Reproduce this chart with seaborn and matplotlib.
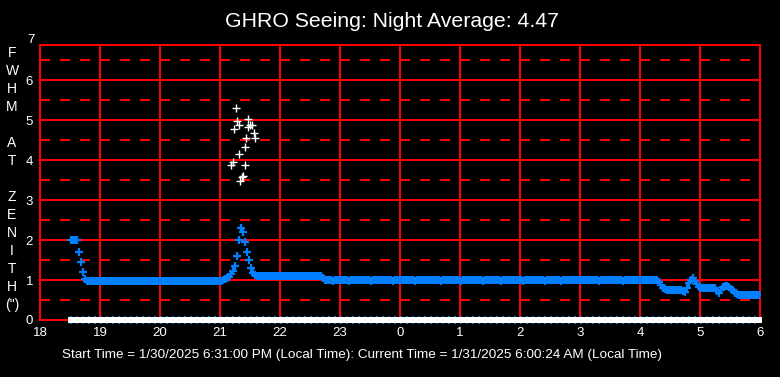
import numpy as np
import pandas as pd
import matplotlib
matplotlib.use('Agg')
import matplotlib.pyplot as plt
import seaborn as sns
from matplotlib.ticker import MultipleLocator, FixedLocator, NullLocator

# ==================== data ====================
start_time = '2025-01-30 18:31'
sample_step = '2min'

# seeing FWHM at zenith (arcsec), one value per 2 minutes from 18:31
fwhm = [
    2.00, 2.00, 2.00, 2.00, 1.70, 1.45, 1.20, 1.02,
    0.98, 0.97, 0.97, 0.97, 0.98, 0.97, 0.97, 0.97, 0.97, 0.97, 0.98, 0.97, 0.97, 0.97, 0.97, 0.97, 0.97,
    0.97, 0.97, 0.98, 0.97, 0.97, 0.97, 0.97, 0.97, 0.97, 0.97, 0.97, 0.98, 0.97, 0.97, 0.97, 0.97, 0.97,
    0.97, 0.97, 0.97, 0.97, 0.97, 0.98, 0.97, 0.97, 0.97, 0.97, 0.97, 0.97, 0.97, 0.97, 0.98, 0.97, 0.97,
    0.97, 0.97, 0.97, 0.97, 0.97, 0.97, 0.98, 0.97, 0.97, 0.97, 0.97, 0.97, 0.97, 0.97, 0.98, 0.97, 0.97,
    0.99, 1.02, 1.05, 1.08, 1.15, 1.22, 1.35, 1.60, 2.00, 2.30, 2.20, 1.95, 1.70, 1.50, 1.30, 1.18, 1.12,
    1.10, 1.10, 1.10, 1.10, 1.10, 1.10, 1.10, 1.10, 1.10, 1.10, 1.10,
    1.10, 1.10, 1.10, 1.10, 1.10, 1.10, 1.10, 1.10, 1.10, 1.10, 1.10,
    1.10, 1.10, 1.10, 1.10, 1.10, 1.10, 1.10, 1.10, 1.10, 1.10, 1.10,
    1.05, 0.99,
    0.99, 0.99, 0.99, 0.98, 0.99, 0.99, 0.99, 0.99, 0.99, 0.99, 0.99, 0.98, 0.99, 0.99, 0.99, 0.99,
    0.99, 0.99, 0.99, 0.99, 0.99, 0.99, 0.98, 0.99, 0.99, 0.99, 0.99, 0.99, 0.99, 0.99, 0.99, 0.99,
    0.99, 0.98, 0.99, 0.99, 0.99, 0.99, 0.99, 0.99, 0.99, 0.99, 0.99, 0.99, 0.98, 0.99, 0.99, 0.99,
    0.99, 0.99, 0.99, 0.99, 0.99, 0.99, 0.99, 0.99, 0.99, 0.98, 0.99, 0.99, 0.99, 0.99, 0.99, 0.99,
    0.99, 0.99, 0.99, 0.98, 0.99, 0.99, 0.99, 0.99, 0.99, 0.99, 0.99, 0.99, 0.99, 0.99, 0.98, 0.99,
    0.99, 0.99, 0.99, 0.99, 0.99, 0.99, 0.99, 0.98, 0.99, 0.99, 0.99, 0.99, 0.99, 0.99, 0.99, 0.99,
    0.99, 0.99, 0.98, 0.99, 0.99, 0.99, 0.99, 0.99, 0.99, 0.99, 0.99, 0.99, 0.99, 0.98, 0.99, 0.99,
    0.99, 0.99, 0.99, 0.99, 0.99, 0.98, 0.99, 0.99, 0.99, 0.99, 0.99, 0.99, 0.99, 0.99, 0.99, 0.99,
    0.99, 0.99, 0.99, 0.99, 0.99, 0.99, 0.99, 0.99, 0.98, 0.99, 0.99, 0.99, 0.99, 0.99, 0.99, 0.99,
    0.99, 0.99, 0.99, 0.99, 0.98, 0.99, 0.99, 0.99, 0.99, 0.99, 0.99, 0.99, 0.99, 0.99, 0.99, 0.99,
    0.99, 0.99, 0.99, 0.99, 0.99, 0.99,
    0.95, 0.88, 0.80, 0.77,
    0.75, 0.75, 0.76, 0.75, 0.75, 0.74, 0.75, 0.75,
    0.73, 0.71, 0.80, 0.92, 1.00, 1.04, 0.98, 0.90, 0.83,
    0.80, 0.80, 0.81, 0.80, 0.80, 0.79, 0.80, 0.80,
    0.72, 0.68, 0.76, 0.82, 0.85, 0.85, 0.82, 0.78, 0.74, 0.68, 0.64,
    0.63, 0.63, 0.63, 0.63, 0.63, 0.63, 0.63, 0.63, 0.63, 0.63, 0.63,
]

# uncorrected readings around the 21h spike (hours, arcsec)
raw_hours = [21.19, 21.22, 21.24, 21.26, 21.28, 21.31, 21.32, 21.34, 21.36, 21.39,
             21.41, 21.42, 21.44, 21.47, 21.47, 21.50, 21.53, 21.56, 21.58]
raw_fwhm = [3.88, 3.94, 4.77, 5.29, 4.97, 4.87, 4.14, 3.48, 3.57, 3.60,
            3.87, 4.33, 4.54, 5.02, 4.82, 4.87, 4.88, 4.67, 4.54]

floor_level = 0.0

hour_ticks = list(range(18, 31))
hour_labels = ['18', '19', '20', '21', '22', '23', '0', '1', '2', '3', '4', '5', '6']
y_ticks = [0, 1, 2, 3, 4, 5, 6]

title = 'GHRO Seeing: Night Average: 4.47'
footer = ('Start Time = 1/30/2025 6:31:00 PM (Local Time): '
          'Current Time = 1/31/2025 6:00:24 AM (Local Time)')
ylabel_chars = ['F', 'W', 'H', 'M', '', 'A', 'T', '', 'Z', 'E', 'N', 'I', 'T', 'H', '(")']

# ==================== style ====================
sns.set_theme(style='dark', rc={
    'figure.facecolor': 'black',
    'axes.facecolor': 'black',
    'axes.edgecolor': 'red',
    'text.color': 'white',
    'xtick.color': 'white',
    'ytick.color': 'white',
})
plt.rcParams['font.family'] = ['Liberation Sans', 'DejaVu Sans']

BLUE = '#0080FF'
RED = '#FF0000'
LW = 1.44

times = pd.date_range(start_time, periods=len(fwhm), freq=sample_step)
hours = (times - pd.Timestamp('2025-01-30')).total_seconds() / 3600.0
df = pd.DataFrame({'hour': hours, 'fwhm': fwhm})
df['floor'] = floor_level

fig = plt.figure(figsize=(7.8, 3.77), dpi=100)
ax = fig.add_axes([40 / 780, 1 - 320 / 377, 720 / 780, (320 - 45.3) / 377])

ax.set_xlim(18, 30)
ax.set_ylim(0, 6.87)

ax.xaxis.set_major_locator(FixedLocator(hour_ticks))
ax.set_xticklabels(hour_labels)
ax.xaxis.set_minor_locator(NullLocator())
ax.yaxis.set_major_locator(FixedLocator(y_ticks))
ax.yaxis.set_minor_locator(MultipleLocator(0.5))
ax.tick_params(axis='both', which='both', length=0, labelsize=9.5, pad=5)
ax.text(-5 / 720, 7, '7', transform=ax.get_yaxis_transform(), ha='right', va='center',
        fontsize=9.5, color='white', clip_on=False)

ax.set_axisbelow(True)
ax.grid(which='major', axis='both', color=RED, lw=LW, ls='-')
ax.grid(which='minor', axis='y', color=RED, lw=LW, ls=(0, (5, 5)))
for sp in ax.spines.values():
    sp.set_color(RED)
    sp.set_linewidth(LW)

# floor markers: blue ticks under a white strip
sns.scatterplot(data=df.iloc[::3], x='hour', y='floor', marker='|', s=40, color=BLUE,
                linewidth=1.2, ax=ax, clip_on=False, zorder=6, legend=False)
sns.scatterplot(data=df, x='hour', y='floor', marker='s', s=14, color='white',
                linewidth=0, ax=ax, clip_on=False, zorder=7, legend=False)

# seeing readings
sns.scatterplot(data=df, x='hour', y='fwhm', marker='+', s=30, color=BLUE,
                linewidth=1.6, ax=ax, zorder=5, legend=False)
sns.scatterplot(x=raw_hours, y=raw_fwhm, marker='+', s=30, color='white',
                linewidth=1.0, ax=ax, zorder=5, legend=False)

ax.set_xlabel('')
ax.set_ylabel('')

fig.text(392 / 780, 1 - 21.7 / 377, title, ha='center', va='center', fontsize=15.3, color='white')
fig.text(362 / 780, 1 - 355 / 377, footer, ha='center', va='center', fontsize=9.7, color='white')
for i, ch in enumerate(ylabel_chars):
    if ch:
        fig.text(12 / 780, 1 - (53 + 18.0 * i) / 377, ch, ha='center', va='center',
                 fontsize=10, color='white')

fig.savefig('out.png', dpi=100, facecolor='black')
